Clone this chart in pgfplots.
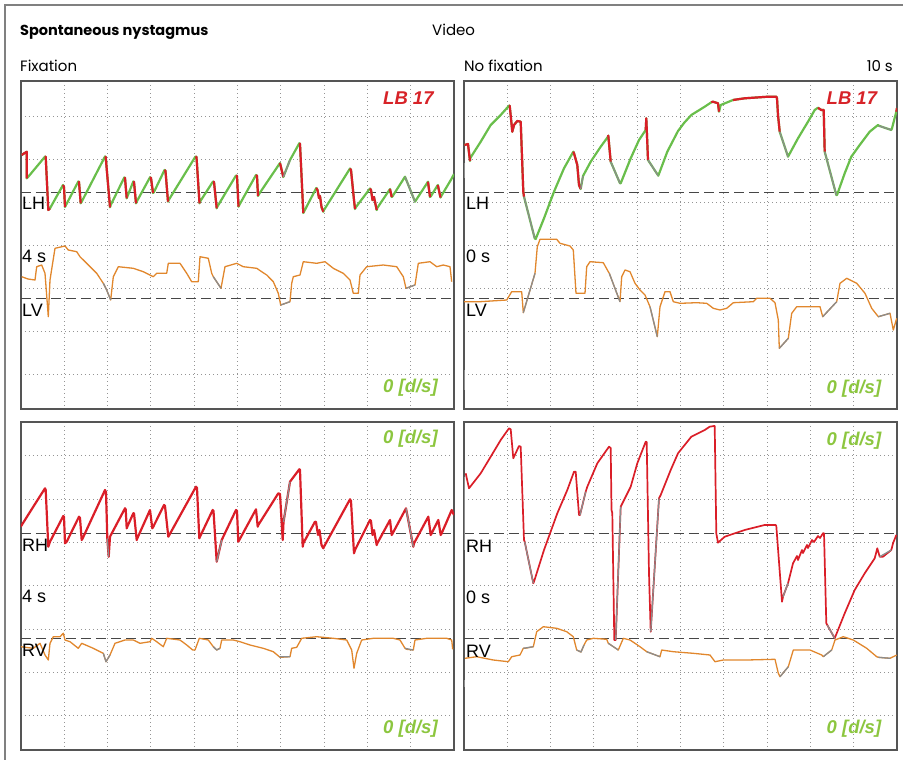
\documentclass[border=0pt]{standalone}
\usepackage{pgfplots}
\pgfplotsset{compat=1.18}
\usepackage{fontspec}
\setmainfont{Liberation Sans}
\newfontfamily\gothic{Poppins}
\definecolor{cRed}{RGB}{218,30,40}
\definecolor{cGreen}{RGB}{105,190,75}
\definecolor{cOrange}{RGB}{225,135,45}
\definecolor{cGray}{RGB}{140,140,140}
\definecolor{cLab}{RGB}{140,198,63}
\definecolor{cLB}{RGB}{215,35,40}
\definecolor{cBorder}{RGB}{85,85,85}
\definecolor{cDash}{RGB}{70,70,70}
\pgfplotsset{
  panel/.style={scale only axis, width=433pt, height=328pt, anchor=north west,
    y dir=reverse,
    axis line style={draw=cBorder, line width=1.3pt},
    grid=major, grid style={draw=black!42, line width=0.9pt, dash pattern=on 1.1pt off 2.9pt},
    xticklabels={}, yticklabels={}, major tick length=0pt, tick style={draw=none},
    clip=true, unbounded coords=jump},
  topy/.style={ymin=81, ymax=409, ytick={116.5,159.5,202.5,245.5,288.5,331.5,374.5}},
  boty/.style={ymin=422, ymax=750, ytick={455.5,499,542.3,585.5,629,672.3,715.5}},
  leftx/.style={xmin=21, xmax=454, xtick={64.3,107.6,150.9,194.2,237.5,280.8,324.1,367.4,410.7}},
  rightx/.style={xmin=464, xmax=897, xtick={507.3,550.6,593.9,637.2,680.5,723.8,767.1,810.4,853.7}},
  dashln/.style={draw=cDash, line width=1.5pt, dash pattern=on 10pt off 5pt, mark=none},
  gr/.style={draw=cGreen, line width=2.2pt, line join=round, mark=none},
  rd/.style={draw=cRed, line width=2.2pt, line join=round, mark=none},
  rdthin/.style={draw=cRed, line width=1.7pt, line join=round, mark=none},
  gy/.style={draw=cGray, line width=1.3pt, line join=round, mark=none},
  og/.style={draw=cOrange, line width=1.3pt, line join=round, mark=none},
}
\newcommand{\lab}[1]{\fontsize{18}{18}\selectfont #1}
\newcommand{\dps}{\fontsize{18.5}{18.5}\selectfont\bfseries\itshape\color{cLab}0 [d/s]}
\newcommand{\lb}{\fontsize{18.5}{18.5}\selectfont\bfseries\itshape\color{cLB}LB 17}
\begin{document}
\begin{tikzpicture}
\path[use as bounding box] (0pt,0pt) rectangle (903pt,-760pt);
\draw[draw=black!50, line width=1.5pt] (5pt,-760pt) -- (5pt,-5pt) -- (903pt,-5pt);
\node[anchor=base west, inner sep=0pt] at (20pt,-35.5pt) {\gothic\bfseries\fontsize{14.5}{14.5}\selectfont Spontaneous nystagmus};
\node[anchor=base west, inner sep=0pt] at (432pt,-35.5pt) {\gothic\fontsize{15}{15}\selectfont Video};
\node[anchor=base west, inner sep=0pt] at (20pt,-71.7pt) {\gothic\fontsize{15}{15}\selectfont Fixation};
\node[anchor=base west, inner sep=0pt] at (464pt,-71.7pt) {\gothic\fontsize{15}{15}\selectfont No fixation};
\node[anchor=base east, inner sep=0pt] at (893pt,-71.7pt) {\gothic\fontsize{15}{15}\selectfont 10 s};

% ---------------- Top left: LH / LV (fixation)
\begin{axis}[panel, topy, leftx, at={(21pt,-81pt)}]
\addplot[dashln] coordinates {(21,192.3) (454,192.3)};
\addplot[dashln] coordinates {(21,298.3) (454,298.3)};
% LV
\addplot[og] coordinates {(21.7,276.7) (28,279) (35,280) (36.7,266.7) (41.7,265) (45,273.3) (48.3,316.7) (50,280) (55,248.3) (65,246) (68.3,250) (76.7,251.7) (80,256.7) (86.7,263.3) (96.7,273.3) (103.3,283.3) (106.7,290) (110.7,300) (113.3,276.7) (118.3,266.7) (133.3,268.3) (143.3,271.7) (153.3,276.7) (156.7,273.3) (166.7,273.3) (168.3,263.3) (180,263.3) (186.7,273.3) (191.7,281.7) (198.3,281.7) (200,256.7) (208.3,258.3) (211.7,273.3) (213.3,276.7) (221,288.3) (225,266.7) (236.7,263.3) (243.3,266.7) (256.7,268.3) (261.7,271.7) (266.7,275) (273.3,281.7) (278.3,293.3) (280.7,305) (290,301.7) (291.7,283.3) (293.3,276.7) (300,275) (303.3,261.7) (316.7,263.3) (325,261.7) (333.3,268.3) (343.3,273.3) (350,280) (353.3,293.3) (358.3,293.3) (360,275) (366.7,266.7) (383.3,265) (396.7,266.7) (403.3,276.7) (406,288.3) (415,285) (418.3,263.3) (430,261.7) (436.7,266.7) (443.3,265) (450,266.7) (451.7,281.7)};
\addplot[gy] coordinates {(103.3,283.3) (106.7,290) (110.7,300) (111,nan) (213.3,276.7) (221,288.3) (222,nan) (280.7,305) (290,301.7) (291,nan) (406,288.3) (415,285)};
% LH
\addplot[gr] coordinates {(21.7,155) (26.7,151.7) (26.7,178.3) (28.3,176.7) (45,156.7) (45.7,156.7) (48.3,210) (50,208.3) (63,185) (64,187) (65,207) (66,205) (78.3,181.5) (79,182) (80.7,203.3) (81.7,201.7) (105,156.5) (105.7,157) (110,207.3) (110.7,205) (124.3,177.5) (125,178) (126.7,198.3) (127.3,196.7) (133.3,181.5) (134,182) (136,203.3) (136.7,201.7) (150,177.3) (151,178) (153,193) (154,192) (164.5,170) (165.5,171) (168,201.7) (168.7,200) (195.5,156.5) (196.5,157) (199.5,203.3) (200,201.7) (213,181.5) (214,182) (216.7,208.3) (217.3,206.7) (236,175.5) (237,176) (238.5,206.7) (239.3,205) (256,175) (257,176) (258,196) (258.7,194.5) (280,163) (283.3,177) (290,160) (299.3,143.3) (300,144) (303.3,213) (304,211.7) (316.3,188) (317.5,190) (319,198) (320,196) (321.5,207) (323.3,211.7) (324,210) (350,168.5) (351,170) (354,200) (355,209) (356,207) (370,188.5) (371,190) (372.5,200) (374,197) (376.7,210) (377.3,208) (390,189) (391.7,197) (392.7,196) (405,176.7) (415,201.7) (428,181.7) (430,197) (431,196) (437.8,185) (440.5,197.5) (441.3,196) (451.7,178.5) (454,174)};
\addplot[rd] coordinates {(21.7,155) (26.7,151.7) (26.7,178.3) (27,nan)
 (45,156.7) (45.7,156.7) (48.3,210) (50,208.3) (51,nan)
 (63,185) (64,187) (65,207) (66,nan)
 (78.3,181.5) (79,182) (80.7,203.3) (81,nan)
 (105,156.5) (105.7,157) (110,207.3) (111,nan)
 (124.3,177.5) (125,178) (126.7,198.3) (127,nan)
 (133.3,181.5) (134,182) (136,203.3) (137,nan)
 (150,177.3) (151,178) (153,193) (154,nan)
 (164.5,170) (165.5,171) (168,201.7) (169,nan)
 (195.5,156.5) (196.5,157) (199.5,203.3) (200,nan)
 (213,181.5) (214,182) (216.7,208.3) (217,nan)
 (236,175.5) (237,176) (238.5,206.7) (239,nan)
 (256,175) (257,176) (258,196) (259,nan)
 (280,163) (283.3,177) (284,nan)
 (299.3,143.3) (300,144) (303.3,213) (304,nan)
 (316.3,188) (317.5,190) (319,198) (320,196) (321.5,207) (323.3,211.7) (324,nan)
 (350,168.5) (351,170) (354,200) (355,209) (356,nan)
 (370,188.5) (371,190) (372.5,200) (374,197) (376.7,210) (377,nan)
 (390,189) (391.7,197) (392,nan)
 (428,181.7) (430,197) (431,nan)
 (437.8,185) (440.5,197.5)};
\addplot[gy] coordinates {(283.3,177) (290,160) (291,nan) (405,176.7) (415,201.7)};
\end{axis}
\node[anchor=base west, inner sep=0pt] at (22pt,-209.3pt) {\lab{LH}};
\node[anchor=base west, inner sep=0pt] at (22pt,-262.7pt) {\lab{4 s}};
\node[anchor=base west, inner sep=0pt] at (22pt,-316pt) {\lab{LV}};
\node[anchor=base west, inner sep=0pt] at (383pt,-105pt) {\lb};
\node[anchor=base west, inner sep=0pt] at (383pt,-392.5pt) {\dps};

% ---------------- Top right: LH / LV (no fixation)
\begin{axis}[panel, topy, rightx, at={(464pt,-81pt)}]
\addplot[dashln] coordinates {(464,192.3) (897,192.3)};
\addplot[dashln] coordinates {(464,298.3) (897,298.3)};
\addplot[gy] coordinates {(464.5,163) (464.5,178) (465,nan) (464.5,370) (464.5,390)};
% LV
\addplot[og] coordinates {(464,301.7) (480,301.7) (506.7,300) (511.7,291.7) (521.7,291.7) (523.3,312.7) (535,273.3) (537.3,246.7) (540,239.3) (556.7,239.3) (560,243.3) (570,246) (573.3,250) (576,293.3) (585,293.3) (586.7,266.7) (590,261.7) (603.3,262.7) (608.3,271.7) (609.3,273.3) (620,301.7) (621.7,276.7) (625,270) (630,271.7) (635,283.3) (640,290) (645,295) (650,306.7) (657.3,336.7) (660,306.7) (665,291.7) (670,291.7) (673.3,301.7) (680,303.3) (696.7,302.7) (706.7,303.3) (713.3,308.3) (720,310) (726.7,308.3) (733.3,302.7) (753.3,301.7) (756.7,298.3) (770,298.3) (775,302.7) (778.3,320) (779.3,348.3) (788.3,338.3) (791.7,313.3) (796.7,306.7) (820,306.7) (822.7,316.7) (836.7,301.7) (840,283.3) (846.7,278.3) (856.7,283.3) (865,293.3) (871.7,308.3) (878.3,316.7) (890,313.3) (893.3,330) (896.7,318.3)};
\addplot[gy] coordinates {(523.3,312.7) (535,273.3) (536,nan) (609.3,273.3) (620,301.7) (621,nan) (650,306.7) (657.3,336.7) (658,nan) (779.3,348.3) (788.3,338.3) (789,nan) (822.7,316.7) (836.7,301.7) (837,nan) (878.3,316.7) (890,313.3)};
% LH
\addplot[gr] coordinates {(464.5,145) (468,144) (470,161) (470.5,157.7) (480.7,141.7) (490.7,125) (500.7,115) (509,105.7) (509.7,105.7) (512.3,131.7) (514,125) (517.3,121) (520.7,121.7) (523.3,191.7) (524,196.7) (534.7,238.3) (535.7,239) (544,218.3) (554,191.7) (564,168.3) (573.3,151.7) (574,153.3) (577.3,165) (579,185) (580.7,189) (583,176) (590.7,161.7) (600.7,146.7) (608,136.7) (608.3,135.7) (610.7,161.7) (620,183.3) (620.7,183.3) (630.7,158.3) (639,140) (645.7,130) (646.3,118.3) (648,160) (658.3,175.7) (667.3,151.7) (678,131) (684,123) (691.3,115) (704.7,106.7) (711.3,102.3) (713,101.7) (718,103.3) (719,111.7) (720.7,105) (733,100) (744.7,98.3) (768,96.7) (776.3,96.7) (777,98.3) (778,115) (779.7,131.7) (788,156.7) (798,138.3) (808,121.7) (814.7,110) (818,107.7) (818.7,108.3) (821.3,110) (823.7,110) (824.7,151.7) (836.3,195) (837,195) (844.7,173.3) (851.3,156.7) (859.7,145) (869.7,131.7) (878,125) (878.7,125.7) (891.3,130) (892,128.3) (896.3,111.7) (897,108)};
\addplot[rd] coordinates {(464.5,145) (468,144) (470,161) (471,nan)
 (509,105.7) (509.7,105.7) (512.3,131.7) (514,125) (517.3,121) (520.7,121.7) (523.3,191.7) (524,196.7) (525,nan)
 (573.3,151.7) (574,153.3) (577.3,165) (579,185) (580.7,189) (581,nan)
 (608,136.7) (608.3,135.7) (610.7,161.7) (611,nan)
 (645.7,130) (646.3,118.3) (648,160) (649,nan)
 (711.3,102.3) (713,101.7) (718,103.3) (719,111.7) (720,nan)
 (733,100) (744.7,98.3) (768,96.7) (776.3,96.7) (777,98.3) (778,115) (779.7,131.7) (780,nan)
 (818,107.7) (818.7,108.3) (821.3,110) (823.7,110) (824.7,151.7) (825,nan)
 (896.3,111.7) (897,108)};
\addplot[gy] coordinates {(524,196.7) (534.7,238.3) (535,nan) (580.7,189) (583,176) (584,nan) (610.7,161.7) (620,183.3) (621,nan) (648,160) (658.3,175.7) (659,nan) (779.7,131.7) (788,156.7) (789,nan) (824.7,151.7) (836.3,195) (837,nan) (878.7,125.7) (891.3,130)};
\end{axis}
\node[anchor=base west, inner sep=0pt] at (466pt,-209.3pt) {\lab{LH}};
\node[anchor=base west, inner sep=0pt] at (466pt,-262.7pt) {\lab{0 s}};
\node[anchor=base west, inner sep=0pt] at (466pt,-316.5pt) {\lab{LV}};
\node[anchor=base west, inner sep=0pt] at (826.5pt,-105pt) {\lb};
\node[anchor=base west, inner sep=0pt] at (826.5pt,-393.5pt) {\dps};

% ---------------- Bottom left: RH / RV (fixation)
\begin{axis}[panel, boty, leftx, at={(21pt,-422pt)}]
\addplot[dashln] coordinates {(21,533.3) (454,533.3)};
\addplot[dashln] coordinates {(21,638.3) (454,638.3)};
% RV
\addplot[og] coordinates {(20.7,646.7) (33.3,648.3) (40,643.3) (45,655) (48.3,660) (50,643.3) (53.3,636.7) (60,636.7) (63.3,633.3) (65,640) (70,641.7) (78.3,648.3) (81.7,643.3) (93.3,648.3) (103.3,653.3) (106,661.7) (110,655) (115,643.3) (125,640) (133.3,640) (140,643.3) (150,641.7) (151.7,638.3) (156.7,641.7) (163.3,646.7) (166.7,638.3) (180,640) (186.7,645) (192.7,650) (195,650) (199.3,638.3) (208.3,640) (213.3,646.7) (216.7,650) (220,648.3) (221.7,640) (233.3,640) (240,641.7) (250,645) (263.3,648.3) (273.3,651.7) (279.3,656.7) (280,657.3) (290,656.7) (291.7,648.3) (296.7,647.3) (301.7,638.3) (316.7,636.7) (333.3,638.3) (346.7,640) (351.7,650) (354,668.3) (356.7,653.3) (361.7,640) (373.3,638.3) (393.3,638.3) (400,640) (405,648.3) (406.7,649.3) (413.3,650) (415,640) (426.7,638.3) (446.7,638.3) (451.7,640) (452.7,649.3)};
\addplot[gy] coordinates {(103.3,653.3) (106,661.7) (110,655) (111,nan) (213.3,646.7) (216.7,650) (220,648.3) (221,nan) (279.3,656.7) (290,656.7) (291,nan) (405,648.3) (413.3,650)};
% RH
\addplot[rd] coordinates {(20.7,526.7) (33.3,506.7) (45,488.3) (45.7,490) (48.3,546.7) (50,541.7) (63.3,516) (64,517) (65,543.3) (66.7,541.7) (79,516.7) (80,518) (81.7,540) (82.7,538.3) (105,490) (106,492) (107.3,538.3) (108.7,556.7) (110,536.7) (125,508.3) (125.7,509.3) (126.7,528.3) (127.3,526.7) (133.3,513.3) (134,513.3) (136.7,540) (137.3,538.3) (150,510) (152.3,528.3) (153.3,526.7) (164,505) (165,506) (168.3,536.7) (169.3,535) (196,486.7) (197,488) (199.3,538.3) (200,536.7) (212.7,510) (213.5,511) (216.7,561.7) (221.7,540) (236,510) (237,511) (238.3,541.7) (239.3,540) (256,509.3) (257.7,526.7) (258.3,525) (278.3,493.3) (280,494) (282.7,540) (283.5,522) (290,481.7) (299.3,469.3) (300,470) (302.7,546.7) (303.3,543.3) (315,521.7) (316,522) (318,535) (319.5,530) (321.5,545) (323.3,548.3) (324,546.7) (350,499.3) (351,501) (354,553.3) (355,550) (370,520) (371,521) (372.5,535) (374,530) (376.7,545) (377.3,543.3) (390,520) (391.7,535) (392.7,533.3) (406,508.3) (413.3,546.7) (414,543.3) (428.3,516.7) (430.7,535) (431.7,533.3) (438.3,520) (440.7,535) (441.7,533.3) (451.7,510) (454,515)};
\addplot[gy] coordinates {(107.3,538.3) (108.7,556.7) (109,nan) (216.7,561.7) (221.7,540) (222,nan) (283.5,522) (290,481.7) (291,nan) (406,508.3) (413.3,546.7)};
\end{axis}
\node[anchor=base west, inner sep=0pt] at (22pt,-551.7pt) {\lab{RH}};
\node[anchor=base west, inner sep=0pt] at (22pt,-602.7pt) {\lab{4 s}};
\node[anchor=base west, inner sep=0pt] at (22pt,-656pt) {\lab{RV}};
\node[anchor=base west, inner sep=0pt] at (383pt,-443.5pt) {\dps};
\node[anchor=base west, inner sep=0pt] at (383pt,-733.5pt) {\dps};

% ---------------- Bottom right: RH / RV (no fixation)
\begin{axis}[panel, boty, rightx, at={(464pt,-422pt)}]
\addplot[dashln] coordinates {(464,533.3) (897,533.3)};
\addplot[dashln] coordinates {(464,638.3) (897,638.3)};
\addplot[gy] coordinates {(464.5,476.7) (464.5,550) (465,nan) (464.5,680) (464.5,687)};
% RV
\addplot[og] coordinates {(465,658.3) (476.7,656.7) (493.3,660) (508.3,661.7) (511.7,656.7) (520,655) (523.3,648.3) (525,648.3) (533.3,646.7) (536.7,631.7) (543.3,626.7) (556.7,628.3) (566.7,631.7) (573.3,636.7) (576.7,650) (581,652) (584,645) (586.7,640) (593.3,638.3) (606.7,639.3) (608.3,643.3) (618.3,650) (623.3,638.3) (630,640) (640,646.7) (646.7,651.7) (660,656.7) (661.7,650) (673.3,651.7) (693.3,653.3) (710,655) (715,661.7) (723.3,660) (746.7,660) (775,659.3) (778.3,673.3) (780,676.7) (788.3,666.7) (793.3,650) (810,650) (821.7,655) (823.3,656.7) (831.7,650) (835,640) (843.3,636.7) (853.3,640) (866.7,648.3) (876.7,656.7) (878.3,657.3) (890,658.3) (893.3,656.7) (896.7,655)};
\addplot[gy] coordinates {(523.3,648.3) (533.3,646.7) (534,nan) (576.7,650) (581,652) (584,645) (585,nan) (608.3,643.3) (618.3,650) (619,nan) (646.7,651.7) (660,656.7) (661,nan) (780,676.7) (788.3,666.7) (789,nan) (823.3,656.7) (831.7,650) (832,nan) (878.3,657.3) (890,658.3)};
% RH
\addplot[rdthin] coordinates {(465.7,473.3) (469,488.3) (480.7,473.3) (490.7,456.7) (500.7,440) (509,428.3) (510.7,429.3) (513.3,458.3) (519,446) (520.7,446.7) (524,540) (524.7,541.7) (533.3,583.3) (534,581.7) (544,550) (557.3,513.3) (567.3,490) (574,471.7) (575.7,471.7) (579,515) (580,515) (585.7,491.7) (587.3,486.7) (597.3,463.3) (609,446.7) (610.7,448) (611.5,510) (612.3,513) (614.3,640) (615.7,640) (620.7,506.7) (630.7,486.7) (637.3,463.3) (645.7,441.7) (646.7,442) (649,573.3) (650.7,631.7) (659,498.3) (660.7,495) (670.7,470) (678,453.3) (691.3,436.7) (704.7,430) (709.7,426.7) (714,426) (714.7,426) (716.3,533.3) (718,542.7) (724.7,536.7) (744.7,530) (764.7,525) (775.7,525) (776.3,526) (782,601.7) (783,596.7) (788,583.3) (793,563.3) (797,556) (798,560) (802,550) (803,553) (807,545) (808,548) (812,540) (814,542) (818,536) (820,538) (823,533.3) (824,533.3) (826.3,623.3) (827.3,625) (834.7,638.3) (844.7,613.3) (854.7,590) (864.7,573.3) (874.7,558.3) (877.3,548.3) (879.7,556.7) (883,556.7) (891.3,550) (893,543.3) (896.3,535)};
\addplot[gy] coordinates {(524.7,541.7) (533.3,583.3) (534,nan) (580,515) (585.7,491.7) (586,nan) (615.7,640) (620.7,506.7) (621,nan) (650.7,631.7) (659,498.3) (660,nan) (783,596.7) (788,583.3) (789,nan) (827.3,625) (834.7,638.3) (835,nan) (879.7,556.7) (891.3,550)};
\end{axis}
\node[anchor=base west, inner sep=0pt] at (466pt,-552pt) {\lab{RH}};
\node[anchor=base west, inner sep=0pt] at (466pt,-603pt) {\lab{0 s}};
\node[anchor=base west, inner sep=0pt] at (466pt,-657pt) {\lab{RV}};
\node[anchor=base west, inner sep=0pt] at (826.5pt,-445pt) {\dps};
\node[anchor=base west, inner sep=0pt] at (826.5pt,-733.5pt) {\dps};
\end{tikzpicture}
\end{document}
